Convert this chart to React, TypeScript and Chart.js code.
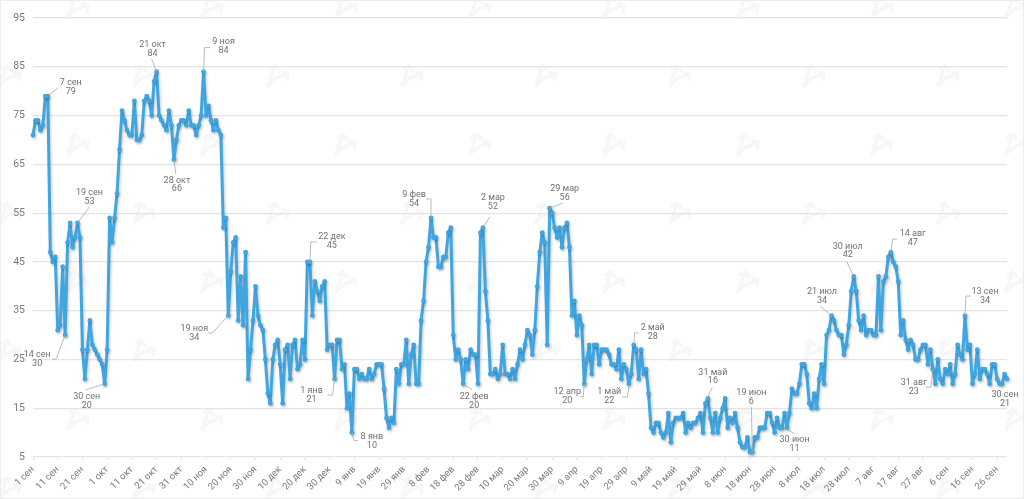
import React, { useEffect, useRef } from "react";
import Chart from "chart.js/auto";
import type { Plugin } from "chart.js";

const MONTHS = ["сен", "окт", "ноя", "дек", "янв", "фев", "мар", "апр", "май", "июн", "июл", "авг", "сен"];
const MONTH_DAYS = [30, 31, 30, 31, 31, 28, 31, 30, 31, 30, 31, 31, 30];

const dates: string[] = MONTHS.flatMap((month, m) =>
    Array.from({ length: MONTH_DAYS[m] }, (_, day) => `${day + 1} ${month}`)
);

const values = [
    71, 74, 74, 72, 73, 79, 79, 47, 45, 46,
    31, 32, 44, 30, 49, 53, 48, 50, 53, 50,
    27, 21, 27, 33, 28, 27, 26, 25, 24, 20,
    27, 54, 49, 54, 59, 68, 76, 74, 72, 71,
    71, 78, 70, 70, 71, 78, 79, 78, 75, 82,
    84, 75, 74, 73, 72, 76, 73, 66, 70, 73,
    74, 74, 73, 76, 73, 73, 71, 73, 75, 84,
    75, 77, 74, 72, 74, 72, 71, 52, 54, 34,
    43, 49, 50, 33, 42, 32, 47, 21, 27, 33,
    40, 34, 32, 31, 25, 18, 16, 25, 28, 29,
    24, 16, 27, 28, 21, 28, 29, 23, 24, 29,
    25, 45, 45, 34, 41, 39, 37, 40, 41, 27,
    28, 28, 21, 29, 29, 23, 24, 15, 18, 10,
    23, 23, 21, 22, 21, 21, 23, 21, 22, 24,
    24, 24, 19, 13, 11, 13, 12, 23, 20, 24,
    24, 29, 20, 26, 28, 20, 20, 33, 37, 45,
    48, 54, 50, 50, 44, 44, 46, 46, 51, 52,
    30, 25, 27, 25, 20, 25, 23, 27, 26, 26,
    20, 51, 52, 39, 33, 22, 22, 23, 21, 22,
    28, 22, 22, 21, 23, 21, 24, 27, 25, 28,
    31, 30, 26, 31, 40, 47, 51, 49, 28, 56,
    55, 52, 50, 52, 48, 52, 53, 48, 34, 37,
    30, 34, 32, 20, 25, 28, 22, 28, 28, 24,
    27, 27, 27, 26, 24, 24, 23, 27, 21, 24,
    23, 20, 22, 28, 27, 21, 27, 22, 23, 18,
    11, 10, 12, 12, 10, 9, 10, 14, 8, 12,
    13, 13, 13, 14, 10, 12, 11, 12, 12, 13,
    14, 10, 16, 17, 13, 10, 14, 10, 13, 15,
    17, 11, 13, 12, 14, 11, 8, 7, 7, 9,
    6, 6, 9, 9, 11, 11, 11, 14, 14, 12,
    10, 13, 11, 11, 14, 11, 14, 19, 18, 18,
    20, 24, 24, 22, 16, 15, 18, 15, 21, 24,
    20, 30, 31, 34, 33, 31, 30, 30, 26, 28,
    32, 39, 42, 39, 33, 31, 34, 30, 31, 31,
    30, 30, 42, 31, 41, 42, 46, 47, 45, 44,
    41, 30, 33, 29, 27, 29, 28, 25, 25, 27,
    28, 28, 24, 27, 23, 20, 25, 21, 20, 23,
    22, 24, 20, 22, 28, 26, 25, 34, 27, 28,
    20, 22, 27, 21, 23, 23, 22, 20, 24, 24,
    21, 20, 20, 22, 21,
];

const yTicks = [5, 15, 25, 35, 45, 55, 65, 75, 85, 95];

const calloutIndexes = [
    6, 13, 18, 29, 50, 57, 69, 79, 112, 122, 129, 161, 174, 182,
    209, 223, 242, 243, 272, 291, 302, 323, 332, 347, 364, 377, 394,
];

// text offset from the point, then the leader line, both in px relative to the point
const calloutLayout: { text: [number, number]; leader: [number, number][] }[] = [
    { text: [23, -13], leader: [[0, 0], [10, -8]] },
    { text: [-28, 20], leader: [[0, 0], [-9, 24], [-13, 24]] },
    { text: [12, -30], leader: [[0, 0], [12, -16]] },
    { text: [-18, 13], leader: [[0, 0], [-19, 6]] },
    { text: [-4, -27], leader: [[0, 0], [-5, -13]] },
    { text: [3, 21], leader: [[0, 0], [2, 15]] },
    { text: [20, -30], leader: [[0, 0], [1, -24], [7, -24]] },
    { text: [-34, 13.5], leader: [[0, 0], [-16, 17.5], [-20, 17.5]] },
    { text: [22, -25], leader: [[0, 0], [1, -20], [7, -20]] },
    { text: [-23, 12], leader: [[0, 0], [-2, 16], [-7, 16]] },
    { text: [20, 4], leader: [[0, 0], [2, 8], [6, 8]] },
    { text: [-17, -23], leader: [[0, 0], [0, -19], [-5, -19]] },
    { text: [11, 13], leader: [[0, 0], [9, 6]] },
    { text: [10, -30], leader: [[0, 0], [7, -11]] },
    { text: [15, -19], leader: [[0, 0], [13, -5]] },
    { text: [-17, 8], leader: [[0, 0], [-1, 13], [-4, 13]] },
    { text: [-22, 18], leader: [[-2, 11], [-4, 23], [-9, 23]] },
    { text: [19, -17], leader: [[0, 0], [1, -12], [5, -12]] },
    { text: [7.5, -31], leader: [[1, -4], [7, -16]] },
    { text: [-1, -59], leader: [[0, 0], [-1, -45]] },
    { text: [15, 12], leader: [[7, 1], [15, 6]] },
    { text: [-9.5, -23.5], leader: [[0, 0], [-11, -9]] },
    { text: [-6, -30], leader: [[0, 0], [-7, -15]] },
    { text: [22, -18], leader: [[0, 0], [2, -13], [6, -13]] },
    { text: [-19, 14], leader: [[0, 0], [-2, 18], [-7, 18]] },
    { text: [20, -23.5], leader: [[0, 0], [1, -19.5], [6, -19.5]] },
    { text: [-2, 16], leader: [] },
];

const FONT = "Roboto";
const LINE_COLOR = "#3fa6e2";
const GRID_COLOR = "#e4e4e4";
const TEXT_COLOR = "#7a7a7a";

const watermarkPlugin: Plugin = {
    id: "watermark",
    beforeDraw(chart) {
        const ctx = chart.ctx;
        ctx.save();
        ctx.strokeStyle = "#f7f7f7";
        ctx.lineWidth = 3.5;
        ctx.lineJoin = "round";
        ctx.lineCap = "round";
        for (let row = 0; row < 8; row++) {
            const y = 8 + row * 68.7;
            for (let x = row % 2 ? 10 : 78; x < 1040; x += 134) {
                ctx.beginPath();
                ctx.moveTo(x - 10, y + 9);
                ctx.lineTo(x - 3, y - 11);
                ctx.moveTo(x - 8, y - 8);
                ctx.lineTo(x - 3, y - 11);
                ctx.lineTo(x + 1, y - 6);
                ctx.moveTo(x - 10, y + 9);
                ctx.lineTo(x - 3, y + 2);
                ctx.lineTo(x + 10, y - 3);
                ctx.moveTo(x + 5, y - 4);
                ctx.lineTo(x + 10, y - 3);
                ctx.lineTo(x + 9, y + 3);
                ctx.stroke();
            }
        }
        ctx.strokeStyle = "#ececec";
        ctx.lineWidth = 1;
        ctx.lineCap = "butt";
        ctx.strokeRect(0.5, 0.5, chart.width - 1, chart.height - 1);
        ctx.restore();
    },
};

const lineShadowPlugin: Plugin = {
    id: "lineShadow",
    beforeDatasetsDraw(chart) {
        const ctx = chart.ctx;
        ctx.save();
        ctx.shadowColor = "rgba(0, 0, 0, 0.22)";
        ctx.shadowBlur = 3;
        ctx.shadowOffsetX = 1;
        ctx.shadowOffsetY = 1.5;
    },
    afterDatasetsDraw(chart) {
        chart.ctx.restore();
    },
};

const calloutPlugin: Plugin = {
    id: "callouts",
    afterDraw(chart) {
        const meta = chart.getDatasetMeta(0);
        const ctx = chart.ctx;
        ctx.save();
        calloutIndexes.forEach((index, n) => {
            const { x, y } = meta.data[index];
            const { text, leader } = calloutLayout[n];
            if (leader.length) {
                ctx.strokeStyle = "#a8a8a8";
                ctx.lineWidth = 0.8;
                ctx.beginPath();
                leader.forEach(([dx, dy], i) => {
                    if (i === 0) ctx.moveTo(x + dx, y + dy);
                    else ctx.lineTo(x + dx, y + dy);
                });
                ctx.stroke();
            }
            ctx.fillStyle = "#727272";
            ctx.font = `9px ${FONT}`;
            ctx.textAlign = "center";
            ctx.textBaseline = "middle";
            ctx.fillText(dates[index], x + text[0], y + text[1]);
            ctx.fillText(String(values[index]), x + text[0], y + text[1] + 8.7);
        });
        ctx.restore();
    },
};

export default function App() {
    const canvasRef = useRef<HTMLCanvasElement | null>(null);

    useEffect(() => {
        document.body.style.margin = "0";
        const canvas = canvasRef.current;
        if (!canvas) return;

        const chart = new Chart(canvas, {
            type: "line",
            data: {
                labels: dates,
                datasets: [
                    {
                        data: values,
                        borderColor: LINE_COLOR,
                        backgroundColor: LINE_COLOR,
                        borderWidth: 3,
                        borderJoinStyle: "round",
                        borderCapStyle: "round",
                        tension: 0,
                        pointRadius: 2.4,
                        pointBackgroundColor: LINE_COLOR,
                        pointBorderWidth: 0,
                        clip: false,
                    },
                ],
            },
            options: {
                responsive: true,
                maintainAspectRatio: false,
                animation: false,
                layout: { padding: { top: 18, right: 17, left: 0, bottom: 0 } },
                plugins: {
                    legend: { display: false },
                    tooltip: { enabled: false },
                },
                scales: {
                    x: {
                        type: "category",
                        afterBuildTicks: (axis: any) => {
                            axis.ticks = axis.ticks.filter((tick: any) => tick.value % 10 === 0);
                        },
                        afterFit: (axis: any) => {
                            axis.height = 42;
                        },
                        border: { display: false },
                        grid: { drawOnChartArea: false, drawTicks: true, tickLength: 3, color: GRID_COLOR },
                        ticks: {
                            autoSkip: false,
                            minRotation: 45,
                            maxRotation: 45,
                            padding: 4,
                            color: TEXT_COLOR,
                            font: { family: FONT, size: 9.5 },
                        },
                    },
                    y: {
                        type: "linear",
                        min: 5,
                        max: 95,
                        afterBuildTicks: (axis: any) => {
                            axis.ticks = yTicks.map((value) => ({ value }));
                        },
                        afterFit: (axis: any) => {
                            axis.width = 33;
                        },
                        border: { display: false },
                        grid: { color: GRID_COLOR, lineWidth: 1.2, drawTicks: false },
                        ticks: {
                            padding: 8,
                            color: TEXT_COLOR,
                            font: { family: FONT, size: 10.5 },
                        },
                    },
                },
            },
            plugins: [watermarkPlugin, lineShadowPlugin, calloutPlugin],
        } as any);

        return () => {
            chart.destroy();
        };
    }, []);

    return (
        <div style={{ width: 1024, height: 499 }}>
            <canvas ref={canvasRef} />
        </div>
    );
}
